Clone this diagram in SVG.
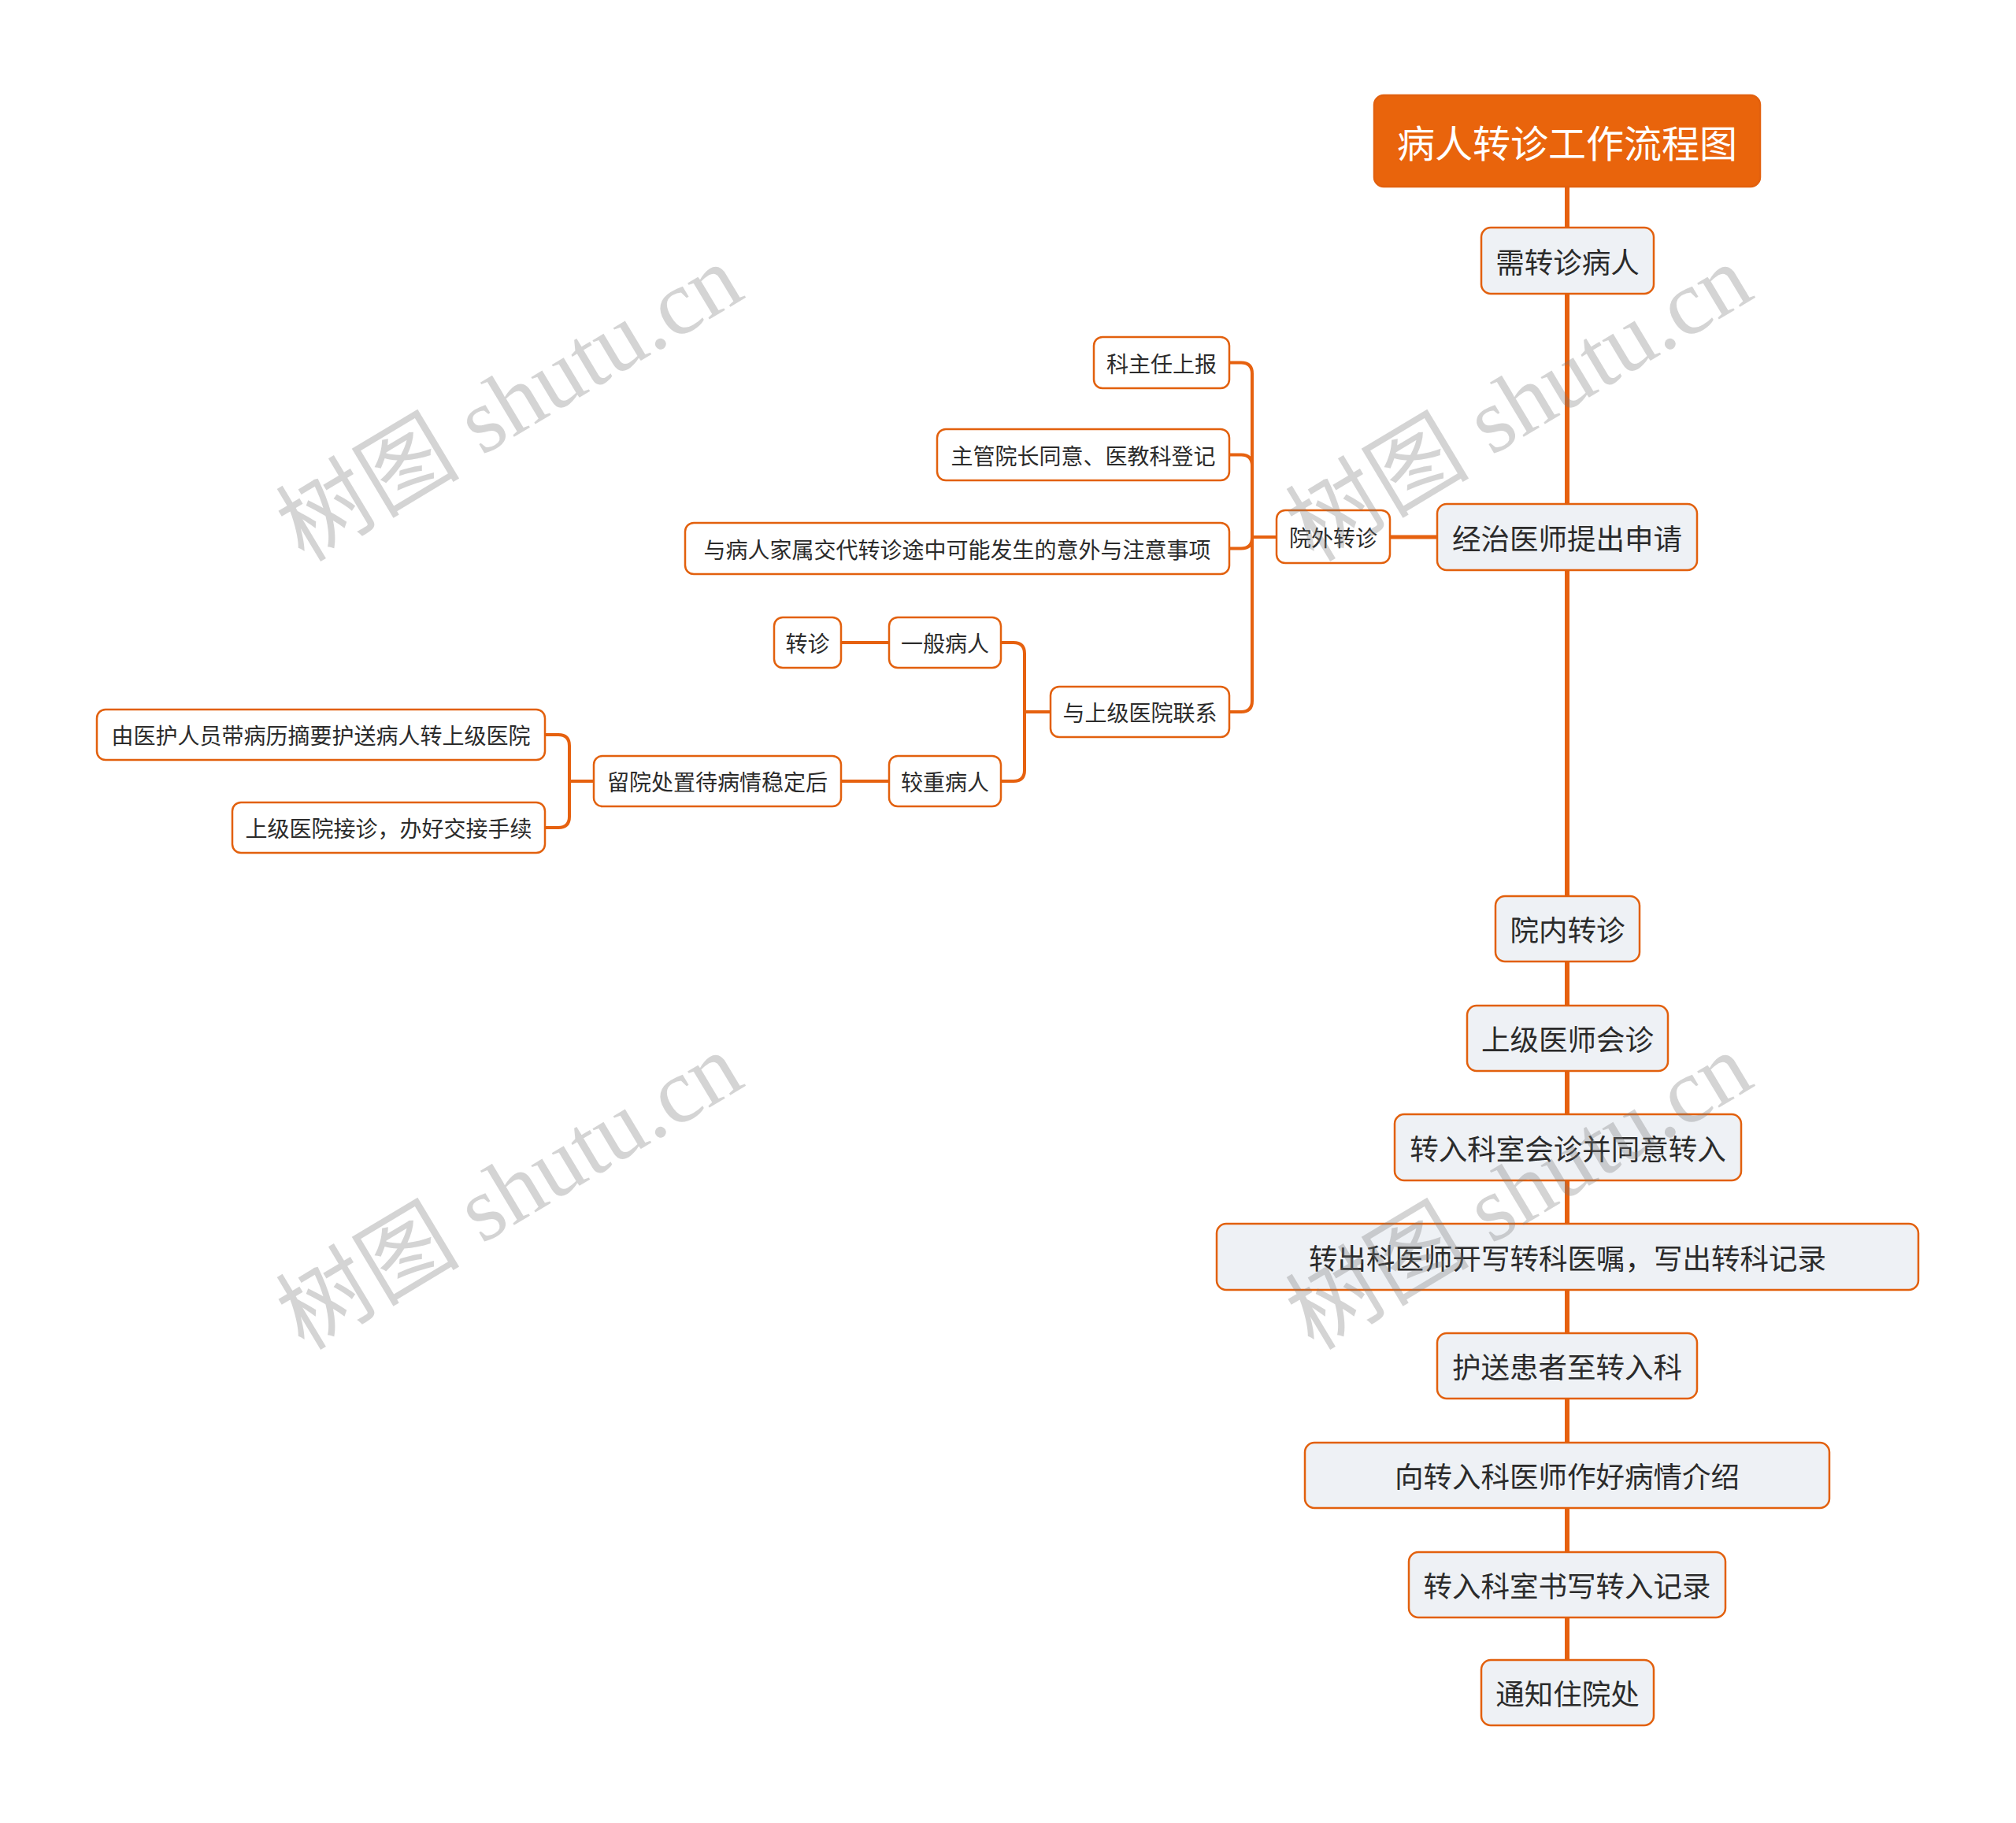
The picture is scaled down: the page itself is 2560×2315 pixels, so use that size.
<svg xmlns="http://www.w3.org/2000/svg" width="2560" height="2315" viewBox="0 0 2560 2315">
<style>
.bg{fill:#ffffff}
.wm{font-family:"Liberation Serif","Noto Sans CJK SC",serif;font-size:117px;fill:#7a7a7a;fill-opacity:0.32;text-anchor:middle;dominant-baseline:central}
.trunk{fill:none;stroke:#E6610F;stroke-width:6}
.link{fill:none;stroke:#E6610F;stroke-width:4;stroke-linejoin:round}
.root rect{fill:#E9640C;stroke:#E2600D;stroke-width:2.5}
.root text{font-family:"Noto Sans CJK SC","Noto Sans",sans-serif;font-size:48px;fill:#ffffff;text-anchor:middle;dominant-baseline:central}
.main rect{fill:#EEF1F5;stroke:#E2600D;stroke-width:2.5}
.main text{font-family:"Noto Sans CJK SC","Noto Sans",sans-serif;font-size:36.5px;fill:#2b2b2b;text-anchor:middle;dominant-baseline:central}
.sub rect{fill:#ffffff;stroke:#E2600D;stroke-width:2.5}
.sub text{font-family:"Noto Sans CJK SC","Noto Sans",sans-serif;font-size:28px;fill:#2b2b2b;text-anchor:middle;dominant-baseline:central}
</style>
<rect class="bg" x="0" y="0" width="2560" height="2315"/>

<g id="connectors">
<path class="trunk" d="M1990,237 V289 M1990,373 V640 M1990,724 V1138 M1990,1221 V1277 M1990,1360 V1415 M1990,1499 V1554 M1990,1638 V1693 M1990,1776 V1832 M1990,1915 V1971 M1990,2054 V2108"/>
<path class="link" style="stroke-width:5" d="M1825,682 H1765"/>
<path class="link" d="M1621,682 H1590 V474.5 Q1590,460.5 1576,460.5 H1561"/>
<path class="link" d="M1621,682 H1590 V591.5 Q1590,577.5 1576,577.5 H1561"/>
<path class="link" d="M1621,682 H1590 V682.5 Q1590,696.5 1576,696.5 H1561"/>
<path class="link" d="M1621,682 H1590 V890 Q1590,904 1576,904 H1561"/>
<path class="link" d="M1334,904 H1301 V830 Q1301,816 1287,816 H1271"/>
<path class="link" d="M1334,904 H1301 V978 Q1301,992 1287,992 H1271"/>
<path class="link" d="M1129,816 H1068"/>
<path class="link" d="M1129,992 H1068"/>
<path class="link" d="M754,992 H723 V947 Q723,933 709,933 H692"/>
<path class="link" d="M754,992 H723 V1037 Q723,1051 709,1051 H692"/>
</g>

<g id="n-root" class="root"><rect x="1745" y="121" width="490" height="116" rx="12"/><text x="1990" y="179">病人转诊工作流程图</text></g>
<g id="n1" class="main"><rect x="1881" y="289" width="219" height="84" rx="12"/><text x="1990.5" y="331">需转诊病人</text></g>
<g id="n2" class="main"><rect x="1825" y="640" width="330" height="84" rx="12"/><text x="1990" y="682">经治医师提出申请</text></g>
<g id="n3" class="main"><rect x="1899" y="1138" width="183" height="83" rx="12"/><text x="1990.5" y="1179.5">院内转诊</text></g>
<g id="n4" class="main"><rect x="1863" y="1277" width="255" height="83" rx="12"/><text x="1990.5" y="1318.5">上级医师会诊</text></g>
<g id="n5" class="main"><rect x="1771" y="1415" width="440" height="84" rx="12"/><text x="1991" y="1457">转入科室会诊并同意转入</text></g>
<g id="n6" class="main"><rect x="1545" y="1554" width="891" height="84" rx="12"/><text x="1990.5" y="1596">转出科医师开写转科医嘱，写出转科记录</text></g>
<g id="n7" class="main"><rect x="1825" y="1693" width="330" height="83" rx="12"/><text x="1990" y="1734.5">护送患者至转入科</text></g>
<g id="n8" class="main"><rect x="1657" y="1832" width="666" height="83" rx="12"/><text x="1990" y="1873.5">向转入科医师作好病情介绍</text></g>
<g id="n9" class="main"><rect x="1789" y="1971" width="402" height="83" rx="12"/><text x="1990" y="2012.5">转入科室书写转入记录</text></g>
<g id="n10" class="main"><rect x="1881" y="2108" width="219" height="83" rx="12"/><text x="1990.5" y="2149.5">通知住院处</text></g>

<g id="s-ywzz" class="sub"><rect x="1621" y="648" width="144" height="67" rx="11"/><text x="1693" y="681.5">院外转诊</text></g>
<g id="s-kzr" class="sub"><rect x="1389" y="428" width="172" height="65" rx="11"/><text x="1475" y="460.5">科主任上报</text></g>
<g id="s-zgyz" class="sub"><rect x="1190" y="545" width="371" height="65" rx="11"/><text x="1375.5" y="577.5">主管院长同意、医教科登记</text></g>
<g id="s-ybr" class="sub"><rect x="870" y="664" width="691" height="65" rx="11"/><text x="1215.5" y="696.5">与病人家属交代转诊途中可能发生的意外与注意事项</text></g>
<g id="s-ysj" class="sub"><rect x="1334" y="872" width="227" height="64" rx="11"/><text x="1447.5" y="904">与上级医院联系</text></g>
<g id="s-ybbr" class="sub"><rect x="1129" y="784" width="142" height="64" rx="11"/><text x="1200" y="816">一般病人</text></g>
<g id="s-zz" class="sub"><rect x="983" y="784" width="85" height="64" rx="11"/><text x="1025.5" y="816">转诊</text></g>
<g id="s-jzbr" class="sub"><rect x="1129" y="960" width="142" height="64" rx="11"/><text x="1200" y="992">较重病人</text></g>
<g id="s-lycz" class="sub"><rect x="754" y="960" width="314" height="64" rx="11"/><text x="911" y="992">留院处置待病情稳定后</text></g>
<g id="s-yhry" class="sub"><rect x="123" y="901" width="569" height="64" rx="11"/><text x="407.5" y="933">由医护人员带病历摘要护送病人转上级医院</text></g>
<g id="s-sjjz" class="sub"><rect x="295" y="1019" width="397" height="64" rx="11"/><text x="493.5" y="1051">上级医院接诊，办好交接手续</text></g>

<g id="watermarks">
<text class="wm" transform="translate(647,512) rotate(-31)">树图 shutu.cn</text>
<text class="wm" transform="translate(1929,512) rotate(-31)">树图 shutu.cn</text>
<text class="wm" transform="translate(647,1513) rotate(-31)">树图 shutu.cn</text>
<text class="wm" transform="translate(1929,1513) rotate(-31)">树图 shutu.cn</text>
</g>
</svg>
